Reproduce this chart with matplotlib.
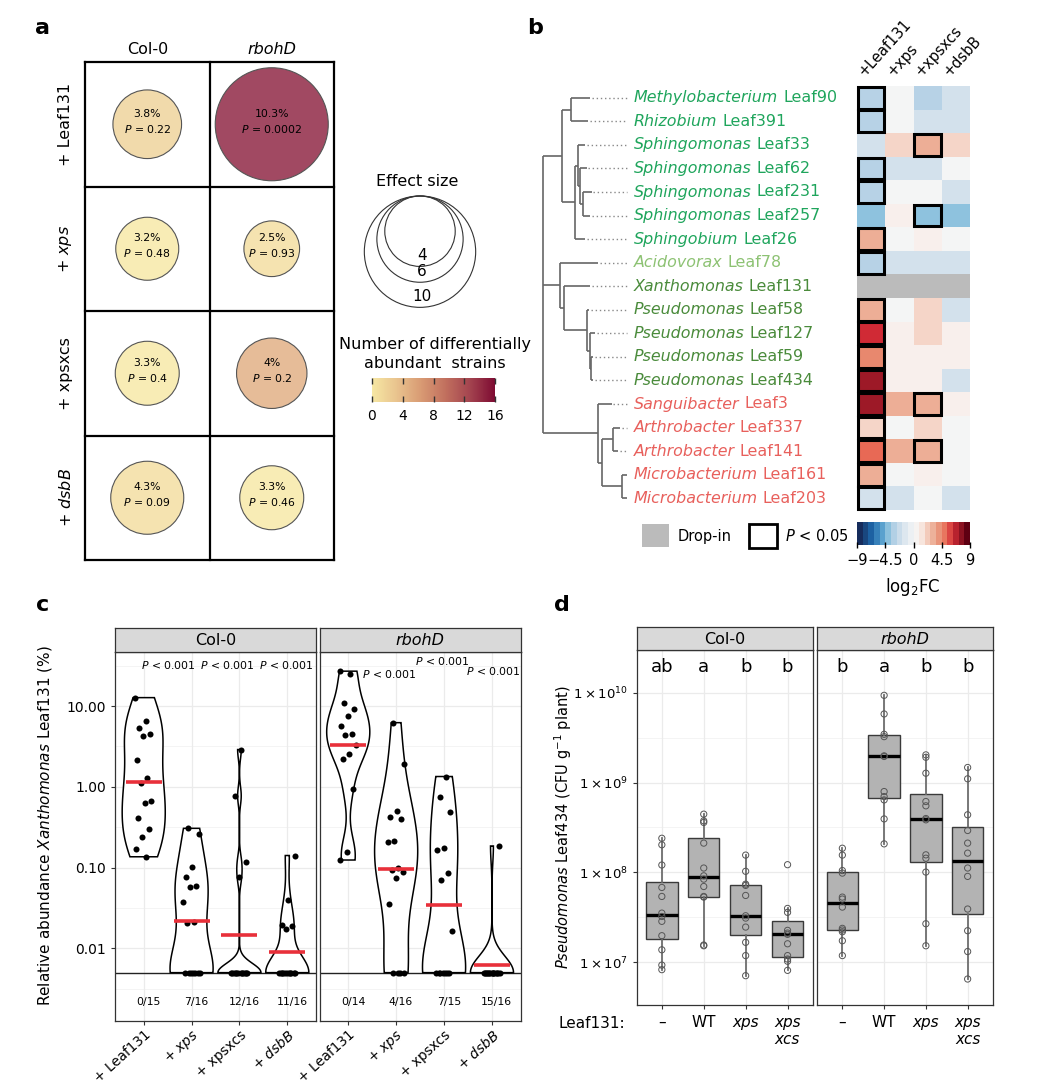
import numpy as np
import matplotlib
matplotlib.use("Agg")
import matplotlib.pyplot as plt
from matplotlib.patches import Circle, Rectangle
from matplotlib.colors import LinearSegmentedColormap, Normalize
from matplotlib.cm import ScalarMappable
from matplotlib.ticker import NullLocator
from matplotlib import cbook

plt.rcParams["font.family"] = ["DejaVu Sans"]
plt.rcParams["mathtext.fontset"] = "dejavusans"

# ---------------- panel a data ----------------
a_genotypes = ["Col-0", "rbohD"]
a_treatments = ["+ Leaf131", r"+ $\it{xps}$", "+ xpsxcs", r"+ $\it{dsbB}$"]
a_effect = [[3.8, 10.3], [3.2, 2.5], [3.3, 4.0], [4.3, 3.3]]
a_pvalue = [["0.22", "0.0002"], ["0.48", "0.93"], ["0.4", "0.2"], ["0.09", "0.46"]]
a_nstrains = [[2, 15], [0, 1], [0, 5], [1, 0]]
a_legend_sizes = [4, 6, 10]
a_cbar_ticks = [0, 4, 8, 12, 16]

# ---------------- panel b data ----------------
b_genus = ["Methylobacterium", "Rhizobium", "Sphingomonas", "Sphingomonas", "Sphingomonas",
           "Sphingomonas", "Sphingobium", "Acidovorax", "Xanthomonas", "Pseudomonas",
           "Pseudomonas", "Pseudomonas", "Pseudomonas", "Sanguibacter", "Arthrobacter",
           "Arthrobacter", "Microbacterium", "Microbacterium"]
b_strain = ["Leaf90", "Leaf391", "Leaf33", "Leaf62", "Leaf231", "Leaf257", "Leaf26", "Leaf78",
            "Leaf131", "Leaf58", "Leaf127", "Leaf59", "Leaf434", "Leaf3", "Leaf337", "Leaf141",
            "Leaf161", "Leaf203"]
b_class = ["alpha"] * 7 + ["beta"] + ["gamma"] * 5 + ["actino"] * 5
b_columns = ["+Leaf131", "+xps", "+xpsxcs", "+dsbB"]
nan = np.nan
b_log2fc = [
    [-3.2, 0.0, -3.2, -2.0],
    [-3.2, 0.0, -2.0, -2.0],
    [-2.0, 2.0, 3.4, 2.0],
    [-3.2, -2.0, -2.0, 0.0],
    [-3.2, 0.0, 0.0, -2.0],
    [-4.2, 1.0, -4.2, -4.2],
    [3.4, 0.0, 1.0, 0.0],
    [-3.2, -2.0, -2.0, -2.0],
    [nan, nan, nan, nan],
    [3.4, 0.0, 2.0, -2.0],
    [6.6, 1.0, 2.0, 1.0],
    [4.6, 1.0, 1.0, 1.0],
    [7.6, 1.0, 1.0, -2.0],
    [7.6, 3.4, 3.4, 1.0],
    [2.0, 0.0, 2.0, 0.0],
    [5.6, 3.4, 3.4, 0.0],
    [3.4, 0.0, 1.0, 0.0],
    [-2.0, -2.0, 0.0, -2.0],
]
b_signif = [
    [1, 0, 0, 0], [1, 0, 0, 0], [0, 0, 1, 0], [1, 0, 0, 0], [1, 0, 0, 0], [0, 0, 1, 0],
    [1, 0, 0, 0], [1, 0, 0, 0], [0, 0, 0, 0], [1, 0, 0, 0], [1, 0, 0, 0], [1, 0, 0, 0],
    [1, 0, 0, 0], [1, 0, 1, 0], [1, 0, 0, 0], [1, 0, 1, 0], [1, 0, 0, 0], [1, 0, 0, 0],
]
# tree: internal node = (depth, [children]); leaf = (tip depth, row)
b_tree = (543, [
    (561.7, [(570.7, [(590, 0), (588, 1)]),
             (575, [(578.3, [(585, 2), (580, [(586.7, 3), (583.3, [(591.7, 4), (590, 5)])])]),
                    (585, 6)])]),
    (560, [(598.3, 7),
           (564.3, [(590, 8),
                    (586.7, [(589, 9), (590, [(595, 10), (591, [(593, 11), (593, 12)])])])])]),
    (597.7, [(611.7, 13),
             (601.7, [(613.3, [(620, 14), (618, 15)]), (621.7, [(627, 16), (627, 17)])])]),
])

# ---------------- panel c data (relative abundance, %) ----------------
c_labels = ["+ Leaf131", r"+ $\it{xps}$", "+ xpsxcs", r"+ $\it{dsbB}$"]
c_col0 = [
    [12.7, 6.53, 5.41, 4.47, 4.23, 2.13, 1.30, 1.12, 0.665, 0.634, 0.41, 0.303, 0.239, 0.172, 0.136],
    [0.306, 0.263, 0.103, 0.077, 0.059, 0.057, 0.038, 0.021, 0.0207] + [0] * 7,
    [2.89, 0.774, 0.116, 0.077] + [0] * 12,
    [0.141, 0.040, 0.0196, 0.0187, 0.0175] + [0] * 11,
]
c_rbohd = [
    [27.0, 25.1, 11.0, 9.1, 7.6, 5.66, 4.47, 4.34, 3.30, 2.55, 2.22, 0.935, 0.158, 0.124],
    [6.22, 1.94, 0.50, 0.423, 0.399, 0.215, 0.209, 0.098, 0.0935, 0.0875, 0.0753, 0.0356] + [0] * 4,
    [1.34, 0.745, 0.486, 0.173, 0.165, 0.0867, 0.0692, 0.0162] + [0] * 7,
    [0.185] + [0] * 15,
]
c_floor = 0.005

# ---------------- panel d data (CFU per g plant) ----------------
d_labels = ["–", "WT", "xps", "xps\nxcs"]
d_col0 = [
    [2.40e8, 2.03e8, 1.21e8, 6.81e7, 5.41e7, 3.53e7, 3.24e7, 2.86e7, 1.98e7, 1.38e7, 9.33e6, 8.30e6],
    [4.45e8, 3.75e8, 3.60e8, 2.12e8, 1.12e8, 9.18e7, 8.43e7, 6.98e7, 5.41e7, 5.32e7, 1.56e7, 1.53e7],
    [1.56e8, 1.03e8, 7.41e7, 7.18e7, 5.55e7, 3.30e7, 3.11e7, 2.47e7, 1.67e7, 1.19e7, 7.11e6],
    [1.22e8, 3.98e7, 3.60e7, 2.27e7, 2.12e7, 2.05e7, 1.61e7, 1.19e7, 1.09e7, 1.03e7, 8.15e6],
]
d_rbohd = [
    [1.86e8, 1.56e8, 1.05e8, 9.84e7, 5.32e7, 5.06e7, 4.12e7, 2.39e7, 2.29e7, 2.19e7, 1.74e7, 1.19e7],
    [9.33e9, 5.79e9, 3.44e9, 3.24e9, 1.98e9, 1.95e9, 7.94e8, 6.98e8, 6.41e8, 3.94e8, 2.08e8],
    [2.03e9, 1.91e9, 1.27e9, 6.15e8, 5.51e8, 3.98e8, 3.85e8, 1.57e8, 1.44e8, 1.01e8, 2.69e7, 1.53e7],
    [1.47e9, 1.10e9, 4.38e8, 2.93e8, 2.12e8, 1.64e8, 1.12e8, 9.04e7, 3.92e7, 2.25e7, 1.32e7, 6.53e6],
]
d_letters_col0 = ["ab", "a", "b", "b"]
d_letters_rbohd = ["b", "a", "b", "b"]

W, H = 1042, 1088
fig = plt.figure(figsize=(W / 100, H / 100), dpi=100)


def px_axes(x0, y0, x1, y1):
    return fig.add_axes([x0 / W, 1 - y1 / H, (x1 - x0) / W, (y1 - y0) / H])


ov = px_axes(0, 0, W, H)
ov.set_xlim(0, W)
ov.set_ylim(H, 0)
ov.axis("off")

for lab, (x, y) in zip("abcd", [(43, 28), (535, 28), (43, 605), (562, 605)]):
    ov.text(x, y, lab, fontsize=16, fontweight="bold", ha="center", va="center")

# ================= panel a =================
cmap_a = LinearSegmentedColormap.from_list(
    "strains", ["#F6E7A3", "#E9C38E", "#D89A73", "#C16F5E", "#A3434F", "#7E0B32"])
norm_a = Normalize(0, 16)
cell_px = 124.5

ax_a = px_axes(85, 62, 334, 560)
ax_a.set_xlim(0, 2)
ax_a.set_ylim(4, 0)
ax_a.axis("off")
for x in range(3):
    ax_a.plot([x, x], [0, 4], color="black", lw=1.6, clip_on=False)
for y in range(5):
    ax_a.plot([0, 2], [y, y], color="black", lw=1.6, clip_on=False)
for j, g in enumerate(a_genotypes):
    ax_a.text(j + 0.5, -0.1, g, ha="center", va="center", fontsize=11.5,
              style="italic" if g == "rbohD" else "normal")
for i, t in enumerate(a_treatments):
    ax_a.text(-0.155, i + 0.5, t, rotation=90, ha="center", va="center", fontsize=11.5)
    for j in range(2):
        col = np.array(cmap_a(norm_a(a_nstrains[i][j])))
        fc = 0.8 * col[:3] + 0.2
        ax_a.add_patch(Circle((j + 0.5, i + 0.5), np.sqrt(a_effect[i][j] / 50),
                              facecolor=fc, edgecolor="#555555", lw=0.8))
        ax_a.text(j + 0.5, i + 0.415, f"{a_effect[i][j]:g}%", ha="center", va="center",
                  fontsize=7.8)
        ax_a.text(j + 0.5, i + 0.535, "$P$ = " + a_pvalue[i][j], ha="center", va="center",
                  fontsize=7.8)

# effect size legend
ax_l = px_axes(340, 185, 510, 320)
ax_l.set_xlim(340, 510)
ax_l.set_ylim(320, 185)
ax_l.axis("off")
for v in a_legend_sizes[::-1]:
    r = cell_px * np.sqrt(v / 50)
    ax_l.add_patch(Circle((420, 196 + r), r, fill=False, edgecolor="#333333", lw=0.8))
    ax_l.text(422, 196 + 2 * r - 11, str(v), ha="center", va="center", fontsize=11)
ov.text(417, 181, "Effect size", ha="center", va="center", fontsize=11.5)
ov.text(435, 344, "Number of differentially", ha="center", va="center", fontsize=11.5)
ov.text(435, 363, "abundant  strains", ha="center", va="center", fontsize=11.5)

cax_a = px_axes(372, 378, 495, 402)
cb_a = fig.colorbar(ScalarMappable(norm=norm_a, cmap=cmap_a), cax=cax_a, orientation="horizontal")
cb_a.outline.set_visible(False)
cb_a.set_ticks(a_cbar_ticks)
cax_a.tick_params(axis="x", direction="in", length=4, width=1, color="#333333",
                  top=True, labelsize=10, pad=5)

# ================= panel b =================
cmap_b = LinearSegmentedColormap.from_list("fc", [
    (0.0, "#162C5C"), (2 / 18, "#1D64A6"), (3.5 / 18, "#4B97C9"), (4.8 / 18, "#8EC2DE"),
    (5.8 / 18, "#B7D2E6"), (7 / 18, "#D3E1EC"), (9 / 18, "#F4F5F5"), (10 / 18, "#F8F0ED"),
    (11 / 18, "#F5D5C8"), (12.4 / 18, "#EDAF97"), (13.6 / 18, "#E8896F"), (14.6 / 18, "#E86A55"),
    (15.6 / 18, "#D02A35"), (16.6 / 18, "#A01A28"), (1.0, "#5E0012")])
cmap_b.set_bad("#BBBBBB")
norm_b = Normalize(-9, 9)
nrow = len(b_strain)

ax_h = px_axes(857, 86, 970, 510)
ax_h.pcolormesh(np.ma.masked_invalid(np.array(b_log2fc)), cmap=cmap_b, norm=norm_b)
ax_h.set_xlim(0, 4)
ax_h.set_ylim(nrow, 0)
ax_h.axis("off")
for i in range(nrow):
    for j in range(4):
        if b_signif[i][j]:
            ax_h.add_patch(Rectangle((j + 0.03, i + 0.04), 0.94, 0.92, fill=False,
                                     edgecolor="black", lw=2.2, clip_on=False, zorder=3))
for j, c in enumerate(b_columns):
    ax_h.text(j + 0.35, -0.3, c, rotation=48, ha="left", va="bottom",
              rotation_mode="anchor", fontsize=10.5)

ax_t = px_axes(520, 86, 857, 510)
ax_t.set_xlim(520, 857)
ax_t.set_ylim(nrow, 0)
ax_t.axis("off")
tree_kw = dict(color="#666666", lw=1.2, solid_capstyle="butt")


def draw_node(node, parent_x):
    x, kids = node
    if isinstance(kids, int):
        y = kids + 0.5
        ax_t.plot([parent_x, x], [y, y], **tree_kw)
        if x < 626:
            ax_t.plot([x + 1.5, 626.5], [y, y], color="#888888", lw=1, ls=(0, (1, 2)))
        return y
    ys = [draw_node(k, x) for k in kids]
    y = (min(ys) + max(ys)) / 2
    ax_t.plot([x, x], [min(ys), max(ys)], **tree_kw)
    if parent_x is not None:
        ax_t.plot([parent_x, x], [y, y], **tree_kw)
    return y


draw_node(b_tree, None)

class_colors = {"alpha": "#1FA55C", "beta": "#8DC273", "gamma": "#4A8B3B", "actino": "#E8605C"}
for i in range(nrow):
    c = class_colors[b_class[i]]
    t = ax_t.text(634, i + 0.5, b_genus[i], style="italic", color=c, fontsize=11.4,
                  ha="left", va="center")
    ax_t.annotate(b_strain[i], xy=(1, 0.5), xycoords=t, xytext=(3.5, 0),
                  textcoords="offset points", ha="left", va="center", color=c, fontsize=11.4)

cax_b = px_axes(857, 522, 970, 545)
cb_b = fig.colorbar(ScalarMappable(norm=norm_b, cmap=cmap_b.resampled(20)), cax=cax_b,
                    orientation="horizontal")
cb_b.outline.set_visible(False)
cb_b.set_ticks([-9, -4.5, 0, 4.5, 9])
cb_b.set_ticklabels(["−9", "−4.5", "0", "4.5", "9"])
cax_b.tick_params(axis="x", direction="inout", length=4, width=1, labelsize=10.5, pad=4)
ov.text(913, 587, "log$_2$FC", ha="center", va="center", fontsize=12)

ov.add_patch(Rectangle((642, 524), 27, 23, facecolor="#BBBBBB", edgecolor="none"))
ov.text(678, 537, "Drop-in", ha="left", va="center", fontsize=10.5)
ov.add_patch(Rectangle((748.5, 523.5), 28, 24, fill=False, edgecolor="black", lw=2))
ov.text(785, 536, "$P$ < 0.05", ha="left", va="center", fontsize=10.5)

# ================= panel c =================
GRID = "#EBEBEB"
EDGE = "#333333"


def nrd0(x):
    hi = np.std(x, ddof=1)
    q75, q25 = np.percentile(x, [75, 25])
    lo = min(hi, (q75 - q25) / 1.34)
    if lo == 0:
        lo = hi
    return 0.9 * lo * len(x) ** -0.2


def strip(x0, x1, y0, y1, title):
    s = px_axes(x0, y0, x1, y1)
    s.set_facecolor("#D9D9D9")
    s.set_xticks([])
    s.set_yticks([])
    for sp in s.spines.values():
        sp.set_color(EDGE)
        sp.set_linewidth(0.9)
    s.text(0.5, 0.45, title, transform=s.transAxes, ha="center", va="center", fontsize=11.5,
           style="italic" if title == "rbohD" else "normal")


def frame(ax):
    for sp in ax.spines.values():
        sp.set_color(EDGE)
        sp.set_linewidth(0.9)
    ax.tick_params(color=EDGE, length=3, width=0.8)


def panel_c(ax, groups, first, ptexts):
    ax.set_yscale("log")
    ax.set_ylim(0.00126, 47.3)
    ax.set_xlim(0.4, 4.6)
    for e in [-2, -1, 0, 1]:
        ax.axhline(10.0 ** e, color=GRID, lw=0.9, zorder=0)
    for e in [-2.5, -1.5, -0.5, 0.5, 1.5]:
        ax.axhline(10.0 ** e, color="#F3F3F3", lw=0.6, zorder=0)
    for k in range(4):
        ax.axvline(k + 1, color=GRID, lw=0.9, zorder=0)
    ax.axhline(c_floor, color="#222222", lw=1, zorder=1.5)
    for k, vals in enumerate(groups):
        pos = k + 1
        raw = np.array(vals, float)
        v = np.where(raw == 0, c_floor, raw)
        lg = np.log10(v)
        bw = nrd0(lg)
        g = np.linspace(lg.min(), lg.max(), 512)
        dens = np.exp(-0.5 * ((g[:, None] - lg[None, :]) / bw) ** 2).sum(1)
        hw = 0.45 * dens / dens.max()
        xs = np.concatenate([pos - hw, (pos + hw)[::-1]])
        ys = 10 ** np.concatenate([g, g[::-1]])
        ax.fill(xs, ys, facecolor="white", edgecolor="black", lw=1.1, zorder=2)
        n = len(v)
        jit = 0.18 * (2 * ((np.arange(n) * 0.618 + 0.31 * k) % 1) - 1)
        ax.scatter(pos + jit, v, s=19, color="black", zorder=3, lw=0)
        ax.hlines(10 ** lg.mean(), pos - 0.375, pos + 0.375, color="#E8303A", lw=2.6, zorder=4)
        ax.text(pos + 0.1, 0.00214, f"{int((raw == 0).sum())}/{n}", ha="center", va="center",
                fontsize=7.8)
    for x, y in ptexts:
        ax.text(x, 10 ** y, "$P$ < 0.001", ha="center", va="center", fontsize=7.8)
    ax.yaxis.set_minor_locator(NullLocator())
    ax.set_yticks([0.01, 0.1, 1, 10])
    ax.set_xticks([1, 2, 3, 4])
    ax.set_xticklabels(c_labels, rotation=42, ha="right", rotation_mode="anchor", fontsize=9.8)
    frame(ax)
    ax.tick_params(axis="x", pad=2)
    if first:
        ax.set_yticklabels(["0.01", "0.10", "1.00", "10.00"], fontsize=10)
    else:
        ax.tick_params(axis="y", length=0, labelleft=False)


axc0 = px_axes(115, 651.5, 316, 1021)
axc1 = px_axes(319.5, 651.5, 520.7, 1021)
panel_c(axc0, c_col0, True, [(1.52, 1.502), (2.75, 1.502), (3.99, 1.502)])
panel_c(axc1, c_rbohd, False, [(1.86, 1.40), (2.97, 1.556), (4.03, 1.428)])
strip(115, 316, 627.5, 651.5, "Col-0")
strip(319.5, 520.7, 627.5, 651.5, "rbohD")
ov.text(45, 826, r"Relative abundance $\it{Xanthomonas}$ Leaf131 (%)", rotation=90,
        ha="center", va="center", fontsize=11)

# ================= panel d =================


def panel_d(ax, groups, letters, first):
    ax.set_yscale("log")
    ax.set_ylim(10 ** 6.526, 10 ** 10.474)
    ax.set_xlim(0.4, 4.6)
    for e in [7, 8, 9, 10]:
        ax.axhline(10.0 ** e, color=GRID, lw=0.9, zorder=0)
    for e in [7.5, 8.5, 9.5]:
        ax.axhline(10.0 ** e, color="#F3F3F3", lw=0.6, zorder=0)
    for k in range(4):
        ax.axvline(k + 1, color=GRID, lw=0.9, zorder=0)
    stats = []
    for vals in groups:
        st = cbook.boxplot_stats(np.log10(vals), whis=1.5)[0]
        for key in ["med", "q1", "q3", "whislo", "whishi", "mean", "cilo", "cihi"]:
            st[key] = 10 ** st[key]
        st["fliers"] = []
        stats.append(st)
    ax.bxp(stats, positions=[1, 2, 3, 4], widths=0.75, patch_artist=True, showfliers=False,
           showcaps=False,
           boxprops=dict(facecolor="#B3B3B3", edgecolor="#3A3A3A", lw=1),
           medianprops=dict(color="black", lw=2.4),
           whiskerprops=dict(color="#6E6E6E", lw=1.3))
    for k, vals in enumerate(groups):
        ax.scatter(np.full(len(vals), k + 1), vals, s=20, facecolors="none",
                   edgecolors="#555555", linewidths=0.7, zorder=4)
        ax.text(k + 1, 10 ** 10.289, letters[k], ha="center", va="center", fontsize=13)
    ax.yaxis.set_minor_locator(NullLocator())
    ax.set_yticks([1e7, 1e8, 1e9, 1e10])
    ax.set_xticks([1, 2, 3, 4])
    ax.set_xticklabels(d_labels, fontsize=11, va="top")
    for lab in ax.get_xticklabels()[2:]:
        lab.set_fontstyle("italic")
    frame(ax)
    ax.tick_params(axis="x", pad=4)
    if first:
        ax.set_yticklabels([r"$1\times10^{7}$", r"$1\times10^{8}$", r"$1\times10^{9}$",
                            r"$1\times10^{10}$"], fontsize=9.5)
    else:
        ax.tick_params(axis="y", length=0, labelleft=False)


axd0 = px_axes(636.7, 650, 812.7, 1005)
axd1 = px_axes(817.3, 650, 992.7, 1005)
panel_d(axd0, d_col0, d_letters_col0, True)
panel_d(axd1, d_rbohd, d_letters_rbohd, False)
strip(636.7, 812.7, 627.3, 650, "Col-0")
strip(817.3, 992.7, 627.3, 650, "rbohD")
ov.text(563, 827, r"$\it{Pseudomonas}$ Leaf434 (CFU g$^{-1}$ plant)", rotation=90,
        ha="center", va="center", fontsize=10.5)
ov.text(558, 1024, "Leaf131:", ha="left", va="center", fontsize=11)

fig.savefig("out.png", dpi=100)
